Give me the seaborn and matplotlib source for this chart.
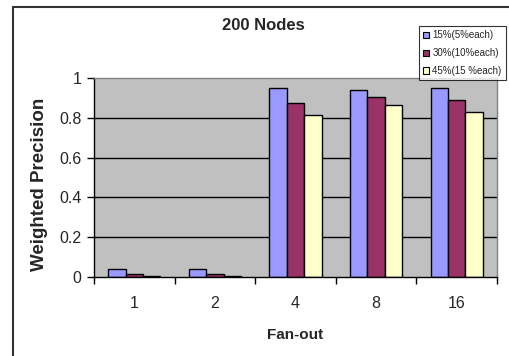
import matplotlib
matplotlib.use("Agg")
import matplotlib.pyplot as plt
from matplotlib.lines import Line2D
import numpy as np
import pandas as pd
import seaborn as sns

# Fan-out levels and weighted precision for each malicious-node setting
fanout = ["1", "2", "4", "8", "16"]
series_names = ["15%(5%each)", "30%(10%each)", "45%(15 %each)"]
p15 = [0.039, 0.039, 0.948, 0.941, 0.948]
p30 = [0.014, 0.014, 0.873, 0.903, 0.891]
p45 = [0.007, 0.007, 0.814, 0.866, 0.828]
colors = ["#9999FF", "#993366", "#FFFFCC"]

rows = []
for name, vals in zip(series_names, [p15, p30, p45]):
    for f, v in zip(fanout, vals):
        rows.append({"Fan-out": f, "Setting": name, "Precision": v})
df = pd.DataFrame(rows)

sns.set_style("white")
plt.rcParams["font.family"] = ["Liberation Sans", "DejaVu Sans"]

fig = plt.figure(figsize=(5.09, 3.56), dpi=100)
ax = fig.add_axes([94 / 509, 1 - 277 / 356, (497 - 94) / 509, (277 - 78) / 356])

sns.barplot(data=df, x="Fan-out", y="Precision", hue="Setting", order=fanout,
            hue_order=series_names, palette=colors, width=0.65,
            edgecolor="black", linewidth=1.0, saturation=1, ax=ax, legend=True)

ax.set_facecolor("#C0C0C0")
ax.set_xlim(-0.5, 4.5)
ax.set_ylim(0, 1)
ax.set_yticks([0, 0.2, 0.4, 0.6, 0.8, 1.0])
ax.set_yticklabels(["0", "0.2", "0.4", "0.6", "0.8", "1"])
for y in [0.2, 0.4, 0.6, 0.8]:
    ax.axhline(y, color="black", linewidth=1.0, zorder=0.5)

ax.set_xticks(range(len(fanout)))
ax.set_xticklabels(fanout)
ax.set_xticks(np.arange(-0.5, 5.0, 1.0), minor=True)
ax.tick_params(axis="x", which="major", length=0, pad=14, labelsize=11.5)
ax.tick_params(axis="x", which="minor", length=5, width=1, color="black", direction="out")
ax.tick_params(axis="y", which="major", length=5, width=1, color="black",
               direction="out", labelsize=11.5, pad=4)
ax.tick_params(axis="x", bottom=True, which="both")
ax.tick_params(axis="y", left=True)

for s in ["left", "bottom"]:
    ax.spines[s].set_color("black")
    ax.spines[s].set_linewidth(1.0)
for s in ["top", "right"]:
    ax.spines[s].set_visible(True)
    ax.spines[s].set_color("#808080")
    ax.spines[s].set_linewidth(1.0)

ax.set_xlabel("Fan-out", fontsize=11, fontweight="bold", labelpad=12)
ax.set_ylabel("Weighted Precision", fontsize=13.5, fontweight="bold")
ax.yaxis.set_label_coords(-0.114, 0.467)

fig.text(263 / 509, 1 - 25 / 356, "200 Nodes", ha="center", va="center",
         fontsize=12, fontweight="bold")

ax.get_legend().remove()
handles = [plt.Rectangle((0, 0), 1, 1, facecolor=c, edgecolor="black", linewidth=0.8)
           for c in colors]
leg = fig.legend(handles, series_names, loc="upper right",
                 bbox_to_anchor=(506 / 509, 1 - 26 / 356), frameon=True,
                 fontsize=7, handlelength=0.6, handleheight=0.6,
                 handletextpad=0.35, borderpad=0.45, labelspacing=0.8,
                 borderaxespad=0, fancybox=False)
leg.get_frame().set_edgecolor("black")
leg.get_frame().set_linewidth(0.8)

# Outer chart frame
fig.add_artist(Line2D([12.5 / 509, 12.5 / 509], [0, 1 - 6.5 / 356],
                      transform=fig.transFigure, color="#333333", linewidth=1.5))
fig.add_artist(Line2D([12.5 / 509, 1], [1 - 6.5 / 356, 1 - 6.5 / 356],
                      transform=fig.transFigure, color="#333333", linewidth=1.5))

fig.savefig("out.png", dpi=100)
